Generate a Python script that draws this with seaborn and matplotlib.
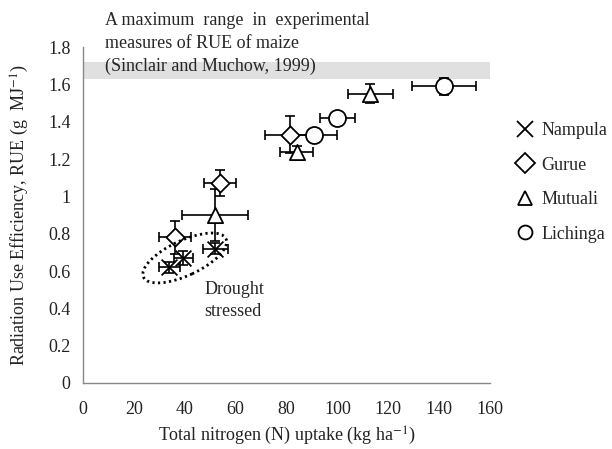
import matplotlib
matplotlib.use("Agg")
import matplotlib.pyplot as plt
import matplotlib.transforms as mtransforms
from matplotlib.patches import Ellipse
from matplotlib.lines import Line2D
import pandas as pd
import seaborn as sns

# values
sites = ["Nampula", "Gurue", "Mutuali", "Lichinga"]
nampula_n = [34.0, 39.5, 52.0]
nampula_rue = [0.62, 0.67, 0.72]
nampula_n_err = [4.3, 3.7, 5.0]
nampula_rue_err = [0.03, 0.04, 0.03]
gurue_n = [36.0, 54.0, 81.5]
gurue_rue = [0.78, 1.07, 1.33]
gurue_n_err = [6.3, 6.3, 10.0]
gurue_rue_err = [0.09, 0.07, 0.10]
mutuali_n = [52.0, 84.0, 113.0]
mutuali_rue = [0.90, 1.24, 1.55]
mutuali_n_err = [13.0, 6.5, 9.0]
mutuali_rue_err = [0.14, 0.03, 0.05]
lichinga_n = [91.0, 100.0, 142.0]
lichinga_rue = [1.33, 1.42, 1.59]
lichinga_n_err = [9.0, 7.0, 12.5]
lichinga_rue_err = [0.02, 0.03, 0.045]
max_rue_band = [1.63, 1.72]
x_ticks = [0, 20, 40, 60, 80, 100, 120, 140, 160]
y_ticks = [0, 0.2, 0.4, 0.6, 0.8, 1.0, 1.2, 1.4, 1.6, 1.8]

frames = []
for site, n, rue, n_err, rue_err in [
    ("Nampula", nampula_n, nampula_rue, nampula_n_err, nampula_rue_err),
    ("Gurue", gurue_n, gurue_rue, gurue_n_err, gurue_rue_err),
    ("Mutuali", mutuali_n, mutuali_rue, mutuali_n_err, mutuali_rue_err),
    ("Lichinga", lichinga_n, lichinga_rue, lichinga_n_err, lichinga_rue_err),
]:
    frames.append(pd.DataFrame({"site": site, "n": n, "rue": rue,
                                "n_err": n_err, "rue_err": rue_err}))
df = pd.concat(frames, ignore_index=True)

markers = {"Nampula": "x", "Gurue": "D", "Mutuali": "^", "Lichinga": "o"}
sizes = {"Nampula": 130, "Gurue": 85, "Mutuali": 120, "Lichinga": 150}
fs = 13

sns.set_style("white")
plt.rcParams["font.family"] = ["Liberation Serif", "DejaVu Serif"]
plt.rcParams["mathtext.fontset"] = "stix"

fig = plt.figure(figsize=(6.12, 4.49), dpi=100)
ax = fig.add_axes([0.1356, 0.147, 0.665, 0.748])

ax.axhspan(max_rue_band[0], max_rue_band[1], color="#e0e0e0", lw=0, zorder=0)

ax.errorbar(df["n"], df["rue"], xerr=df["n_err"], yerr=df["rue_err"],
            fmt="none", ecolor="black", elinewidth=1.2, capsize=3.5,
            capthick=1.2, zorder=2)

for site in sites:
    sub = df[df["site"] == site]
    if markers[site] == "x":
        sns.scatterplot(data=sub, x="n", y="rue", marker="x", s=sizes[site],
                        color="black", linewidth=1.3, ax=ax, zorder=3)
    else:
        sns.scatterplot(data=sub, x="n", y="rue", marker=markers[site],
                        s=sizes[site], facecolor="white", edgecolor="black",
                        linewidth=1.3, ax=ax, zorder=3)

# dotted ellipse around drought stressed points (size in inches)
trans = fig.dpi_scale_trans + mtransforms.ScaledTranslation(40.0, 0.67, ax.transData)
ax.add_patch(Ellipse((0, 0), 0.91, 0.35, angle=25, transform=trans, fill=False,
                     edgecolor="black", lw=2.0, linestyle=(0, (0.8, 1.2)),
                     clip_on=False, zorder=4))

# va="baseline" lines up the last line here
ax.text(47.6, 0.36, "Drought\nstressed", fontsize=fs, va="baseline",
        ha="left", linespacing=1.4)
ax.text(8.7, 1.675,
        "A maximum  range  in  experimental\nmeasures of RUE of maize\n(Sinclair and Muchow, 1999)",
        fontsize=fs, va="baseline", ha="left", linespacing=1.43, clip_on=False)

ax.set_xlim(0, 160)
ax.set_ylim(0, 1.8)
ax.set_xticks(x_ticks)
ax.set_yticks(y_ticks)
ax.set_yticklabels([f"{v:g}" for v in y_ticks])
ax.tick_params(axis="both", direction="out", length=5, width=1, color="#888888",
               labelsize=fs, labelcolor="#222222", pad=4)
ax.tick_params(axis="x", pad=8)
sns.despine(ax=ax)
for side in ["left", "bottom"]:
    ax.spines[side].set_color("#888888")
    ax.spines[side].set_linewidth(1.0)

ax.set_xlabel("Total nitrogen (N) uptake (kg ha$^{-1}$)", fontsize=fs,
              color="#222222", labelpad=5)
ax.set_ylabel("Radiation Use Efficiency, RUE (g  MJ$^{-1}$)", fontsize=fs,
              color="#222222", labelpad=12)

handles = []
for site in sites:
    if markers[site] == "x":
        handles.append(Line2D([], [], ls="none", marker="x", ms=11, mew=1.3,
                              color="black", label=site))
    else:
        handles.append(Line2D([], [], ls="none", marker=markers[site], ms=10,
                              mew=1.3, mfc="white", mec="black", label=site))
ax.legend(handles=handles, loc="upper left", bbox_to_anchor=(0.843, 0.728),
          bbox_transform=fig.transFigure, frameon=False, fontsize=fs,
          handlelength=1.0, handletextpad=0.4, labelspacing=0.97,
          borderpad=0, borderaxespad=0)

fig.savefig("out.png", dpi=100)
